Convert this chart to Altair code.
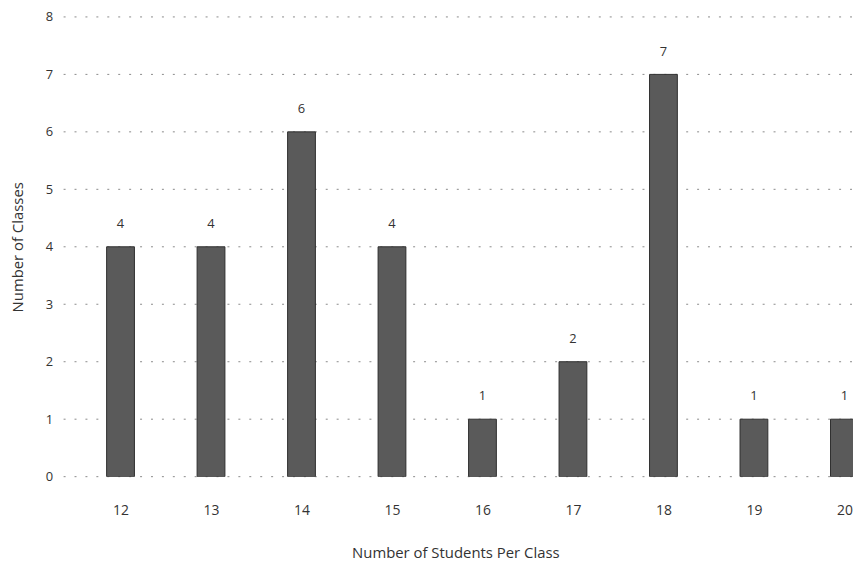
import altair as alt
import pandas as pd

students = [12, 13, 14, 15, 16, 17, 18, 19, 20]
classes = [4, 4, 6, 4, 1, 2, 7, 1, 1]
y_ticks = [0, 1, 2, 3, 4, 5, 6, 7, 8]

df = pd.DataFrame({"students": students, "classes": classes})
grid_df = pd.DataFrame({"level": y_ticks})

FONT = "Open Sans"

x_enc = alt.X(
    "students:Q",
    scale=alt.Scale(domain=[11.36, 20.04], nice=False, zero=False),
    axis=alt.Axis(
        values=students,
        format="d",
        title="Number of Students Per Class",
        grid=False,
        ticks=False,
        domain=False,
        labelPadding=27,
        titlePadding=28,
        labelFontSize=14,
        titleFontSize=15,
        labelColor="#333",
        titleColor="#333",
        labelFont=FONT,
        titleFont=FONT,
        titleFontWeight="normal",
    ),
)
y_enc = alt.Y(
    "classes:Q",
    scale=alt.Scale(domain=[0, 8], nice=False),
    axis=alt.Axis(
        values=y_ticks,
        format="d",
        title="Number of Classes",
        grid=False,
        ticks=False,
        domain=False,
        labelPadding=5,
        titlePadding=20,
        labelFontSize=13,
        titleFontSize=15,
        labelColor="#333",
        titleColor="#333",
        labelFont=FONT,
        titleFont=FONT,
        titleFontWeight="normal",
    ),
)

grid = alt.Chart(grid_df).mark_rule(
    color="#8a8a8a", strokeDash=[2, 9], strokeDashOffset=-6, strokeWidth=1
).encode(
    y=alt.Y("level:Q"),
    x=alt.value(0),
    x2=alt.value(801),
)

bars = alt.Chart(df).mark_bar(
    size=28, color="#5a5a5a", stroke="#2e2e2e", strokeWidth=1, clip=True
).encode(x=x_enc, y=y_enc)

labels = alt.Chart(df).mark_text(
    baseline="bottom", dy=-16, fontSize=13, font=FONT, color="#333"
).encode(x=x_enc, y=y_enc, text="classes:Q")

chart = (
    alt.layer(grid, bars, labels)
    .properties(
        width=801,
        height=463,
        background="white",
        autosize=alt.AutoSizeParams(type="none"),
        padding={"left": 50, "top": 7, "right": 0, "bottom": 90},
    )
    .configure_view(stroke=None, strokeWidth=0)
    .configure_axis(domain=False, tickOpacity=0)
)

chart.save("out.html", embed_options={"renderer": "svg", "actions": False})
